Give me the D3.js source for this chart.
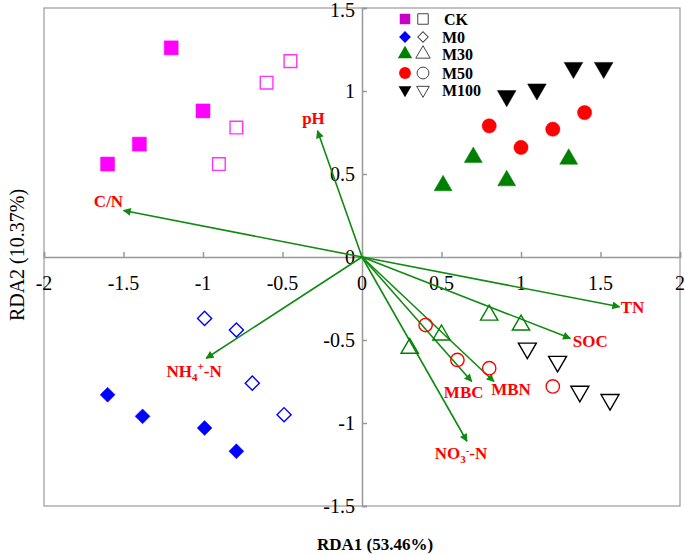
<!DOCTYPE html>
<html>
<head>
<meta charset="utf-8">
<script src="https://cdn.jsdelivr.net/npm/d3@7"></script>
<style>
body { margin: 0; background: #fff; }
</style>
</head>
<body>
<svg class="rdaPlot" width="685" height="555" font-family="'Liberation Serif', 'Times New Roman', Times, serif"></svg>
<script>
// sample scores (RDA1, RDA2)
var ckFilled = [[-1.2, 1.26], [-1.0, 0.88], [-1.4, 0.68], [-1.6, 0.56]];
var ckOpen = [[-0.45, 1.18], [-0.6, 1.05], [-0.79, 0.78], [-0.9, 0.56]];
var m0Filled = [[-1.6, -0.83], [-1.38, -0.96], [-0.99, -1.03], [-0.79, -1.17]];
var m0Open = [[-0.99, -0.37], [-0.79, -0.44], [-0.69, -0.76], [-0.49, -0.95]];
var m30Filled = [[0.51, 0.43], [0.7, 0.6], [0.91, 0.46], [1.3, 0.59]];
var m30Open = [[0.3, -0.55], [0.5, -0.47], [0.8, -0.35], [1.0, -0.41]];
var m50Filled = [[0.8, 0.79], [1.0, 0.66], [1.2, 0.77], [1.4, 0.87]];
var m50Open = [[0.4, -0.41], [0.6, -0.62], [0.8, -0.67], [1.2, -0.78]];
var m100Filled = [[0.91, 0.97], [1.1, 1.01], [1.33, 1.14], [1.52, 1.14]];
var m100Open = [[1.04, -0.55], [1.23, -0.63], [1.37, -0.81], [1.56, -0.86]];

// environmental arrows
var envNames = ["C/N", "pH", "NH4-N", "TN", "SOC", "MBC", "MBN", "NO3-N"];
var envX = [-1.5, -0.28, -0.98, 1.62, 1.31, 0.69, 0.83, 0.66];
var envY = [0.28, 0.76, -0.61, -0.3, -0.49, -0.75, -0.75, -1.11];

var xTicks = [-2, -1.5, -1, -0.5, 0, 0.5, 1, 1.5, 2];
var yTicks = [-1.5, -1, -0.5, 0, 0.5, 1, 1.5];
var groupNames = ["CK", "M0", "M30", "M50", "M100"];

var svg = d3.select("svg.rdaPlot");
var margin = {top: 8, right: 5, bottom: 49, left: 44};
var width = 685 - margin.left - margin.right;
var height = 555 - margin.top - margin.bottom;

var x = d3.scaleLinear().domain([-2, 2]).range([margin.left, margin.left + width]);
var y = d3.scaleLinear().domain([-1.5, 1.5]).range([margin.top + height, margin.top]);

var axisColor = "#999999";
var green = "#108a10";

// frame
svg.append("rect")
    .attr("x", x(-2)).attr("y", y(1.5))
    .attr("width", x(2) - x(-2)).attr("height", y(-1.5) - y(1.5))
    .attr("fill", "none").attr("stroke", axisColor).attr("stroke-width", 1.2);

// axes through origin
svg.append("g")
    .attr("transform", "translate(0," + y(0) + ")")
    .call(d3.axisTop(x).tickValues(xTicks).tickSize(5).tickFormat(""))
    .call(function(g) { g.selectAll("line, path").attr("stroke", axisColor).attr("stroke-width", 1.5); });

svg.append("g")
    .attr("transform", "translate(" + x(0) + ",0)")
    .call(d3.axisRight(y).tickValues(yTicks).tickSize(5).tickFormat(""))
    .call(function(g) { g.selectAll("line, path").attr("stroke", axisColor).attr("stroke-width", 1.5); });

svg.append("g").selectAll("text")
    .data(xTicks).enter().append("text")
    .attr("x", function(d) { return x(d); })
    .attr("y", y(0) + 33)
    .attr("text-anchor", "middle")
    .attr("font-size", 20)
    .text(function(d) { return d; });

svg.append("g").selectAll("text")
    .data(yTicks).enter().append("text")
    .attr("x", x(0) - 7)
    .attr("y", function(d) { return Math.max(y(d) + 7, 17); })
    .attr("text-anchor", "end")
    .attr("font-size", 20)
    .text(function(d) { return d; });

svg.append("text")
    .attr("x", 375).attr("y", 550)
    .attr("text-anchor", "middle")
    .attr("font-size", 17).attr("font-weight", "bold")
    .text("RDA1 (53.46%)");

svg.append("text")
    .attr("transform", "translate(24," + (y(0) - 2) + ") rotate(-90)")
    .attr("text-anchor", "middle")
    .attr("font-size", 20)
    .text("RDA2 (10.37%)");

// arrow head
svg.append("defs").append("marker")
    .attr("id", "head")
    .attr("viewBox", "0 0 10 10")
    .attr("refX", 9).attr("refY", 5)
    .attr("markerWidth", 10).attr("markerHeight", 8)
    .attr("markerUnits", "userSpaceOnUse")
    .attr("orient", "auto")
    .append("path").attr("d", "M0,0 L10,5 L0,10 Z").attr("fill", green);

svg.append("g").selectAll("line")
    .data(envNames).enter().append("line")
    .attr("x1", x(0)).attr("y1", y(0))
    .attr("x2", function(d, i) { return x(envX[i]); })
    .attr("y2", function(d, i) { return y(envY[i]); })
    .attr("stroke", green).attr("stroke-width", 1.6)
    .attr("marker-end", "url(#head)");

// label offsets in pixels
var labelDx = [-15, -4, -12, 13, 20, -8, 17, -6];
var labelDy = [-4, -7, 19, 6, 9, 16, 13, 18];
var labels = svg.append("g").selectAll("text")
    .data(envNames).enter().append("text")
    .attr("x", function(d, i) { return x(envX[i]) + labelDx[i]; })
    .attr("y", function(d, i) { return y(envY[i]) + labelDy[i]; })
    .attr("text-anchor", "middle")
    .attr("font-size", 17).attr("font-weight", "bold")
    .attr("fill", "#ff0000");

labels.each(function(d) {
    var t = d3.select(this);
    if (d == "NH4-N") {
        t.append("tspan").text("NH");
        t.append("tspan").attr("font-size", 11).attr("dy", 4).text("4");
        t.append("tspan").attr("font-size", 11).attr("dy", -11).text("+");
        t.append("tspan").attr("dy", 7).text("-N");
    } else if (d == "NO3-N") {
        t.append("tspan").text("NO");
        t.append("tspan").attr("font-size", 11).attr("dy", 4).text("3");
        t.append("tspan").attr("font-size", 11).attr("dy", -9).text("-");
        t.append("tspan").attr("dy", 5).text("-N");
    } else {
        t.text(d);
    }
});

// point groups
var groups = [
    {data: ckFilled, shape: d3.symbolSquare, size: 196, color: "#ff00ff", filled: true},
    {data: ckOpen, shape: d3.symbolSquare, size: 160, color: "#ff33ff", filled: false},
    {data: m0Filled, shape: d3.symbolSquare, size: 110, color: "#0000ff", filled: true, rot: 45},
    {data: m0Open, shape: d3.symbolSquare, size: 100, color: "#0000ff", filled: false, rot: 45},
    {data: m30Filled, shape: d3.symbolTriangle, size: 140, color: "#008000", filled: true},
    {data: m30Open, shape: d3.symbolTriangle, size: 130, color: "#008000", filled: false},
    {data: m50Filled, shape: d3.symbolCircle, size: 160, color: "#ff0000", filled: true},
    {data: m50Open, shape: d3.symbolCircle, size: 140, color: "#ff0000", filled: false},
    {data: m100Filled, shape: d3.symbolTriangle, size: 150, color: "#000000", filled: true, rot: 180},
    {data: m100Open, shape: d3.symbolTriangle, size: 140, color: "#000000", filled: false, rot: 180}
];

groups.forEach(function(grp) {
    svg.append("g").selectAll("path")
        .data(grp.data).enter().append("path")
        .attr("d", d3.symbol().type(grp.shape).size(grp.size))
        .attr("transform", function(d) {
            return "translate(" + x(d[0]) + "," + y(d[1]) + ") rotate(" + (grp.rot || 0) + ")";
        })
        .attr("fill", grp.filled ? grp.color : "none")
        .attr("stroke", grp.color)
        .attr("stroke-width", grp.filled ? 0.5 : 1.4);
});

// legend
var legendShapes = [d3.symbolSquare, d3.symbolSquare, d3.symbolTriangle, d3.symbolCircle, d3.symbolTriangle];
var legendColors = ["#c800c8", "#0000ff", "#008000", "#ff0000", "#000000"];
var legendRot = [0, 45, 0, 0, 180];
var legendSize = [110, 70, 90, 110, 70];
var legendRows = [19, 37, 54, 73, 90];

var legend = svg.append("g").selectAll("g")
    .data(groupNames).enter().append("g");

legend.append("path")
    .attr("d", function(d, i) { return d3.symbol().type(legendShapes[i]).size(legendSize[i])(); })
    .attr("transform", function(d, i) { return "translate(405," + legendRows[i] + ") rotate(" + legendRot[i] + ")"; })
    .attr("fill", function(d, i) { return legendColors[i]; });

legend.append("path")
    .attr("d", function(d, i) {
        if (i == 1) return d3.symbol().type(d3.symbolSquare).size(55)();
        return d3.symbol().type(legendShapes[i]).size(legendSize[i])();
    })
    .attr("transform", function(d, i) {
        return "translate(423," + legendRows[i] + ") rotate(" + legendRot[i] + ")";
    })
    .attr("fill", "none").attr("stroke", "#444").attr("stroke-width", 1);

legend.append("text")
    .attr("x", function(d, i) { return i == 0 ? 444 : 442; })
    .attr("y", function(d, i) { return legendRows[i] + 6; })
    .attr("font-size", 16).attr("font-weight", "bold")
    .text(function(d) { return d; });
</script>
</body>
</html>
